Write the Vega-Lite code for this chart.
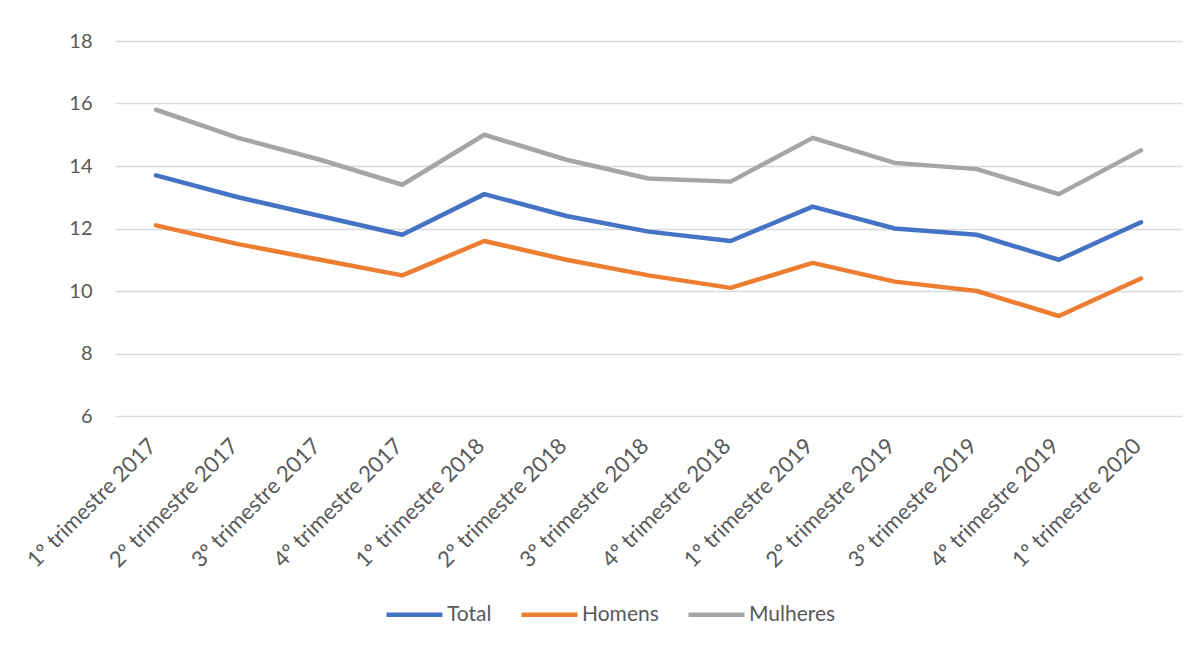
{
  "$schema": "https://vega.github.io/schema/vega-lite/v6.json",
  "width": 1067,
  "height": 375,
  "autosize": {"type": "none"},
  "padding": {"left": 115, "top": 41, "right": 16, "bottom": 230},
  "background": "white",
  "data": {
    "values": [
      {"trimestre": "1º trimestre 2017", "serie": "Total", "valor": 13.7},
      {"trimestre": "2º trimestre 2017", "serie": "Total", "valor": 13.0},
      {"trimestre": "3º trimestre 2017", "serie": "Total", "valor": 12.4},
      {"trimestre": "4º trimestre 2017", "serie": "Total", "valor": 11.8},
      {"trimestre": "1º trimestre 2018", "serie": "Total", "valor": 13.1},
      {"trimestre": "2º trimestre 2018", "serie": "Total", "valor": 12.4},
      {"trimestre": "3º trimestre 2018", "serie": "Total", "valor": 11.9},
      {"trimestre": "4º trimestre 2018", "serie": "Total", "valor": 11.6},
      {"trimestre": "1º trimestre 2019", "serie": "Total", "valor": 12.7},
      {"trimestre": "2º trimestre 2019", "serie": "Total", "valor": 12.0},
      {"trimestre": "3º trimestre 2019", "serie": "Total", "valor": 11.8},
      {"trimestre": "4º trimestre 2019", "serie": "Total", "valor": 11.0},
      {"trimestre": "1º trimestre 2020", "serie": "Total", "valor": 12.2},
      {"trimestre": "1º trimestre 2017", "serie": "Homens", "valor": 12.1},
      {"trimestre": "2º trimestre 2017", "serie": "Homens", "valor": 11.5},
      {"trimestre": "3º trimestre 2017", "serie": "Homens", "valor": 11.0},
      {"trimestre": "4º trimestre 2017", "serie": "Homens", "valor": 10.5},
      {"trimestre": "1º trimestre 2018", "serie": "Homens", "valor": 11.6},
      {"trimestre": "2º trimestre 2018", "serie": "Homens", "valor": 11.0},
      {"trimestre": "3º trimestre 2018", "serie": "Homens", "valor": 10.5},
      {"trimestre": "4º trimestre 2018", "serie": "Homens", "valor": 10.1},
      {"trimestre": "1º trimestre 2019", "serie": "Homens", "valor": 10.9},
      {"trimestre": "2º trimestre 2019", "serie": "Homens", "valor": 10.3},
      {"trimestre": "3º trimestre 2019", "serie": "Homens", "valor": 10.0},
      {"trimestre": "4º trimestre 2019", "serie": "Homens", "valor": 9.2},
      {"trimestre": "1º trimestre 2020", "serie": "Homens", "valor": 10.4},
      {"trimestre": "1º trimestre 2017", "serie": "Mulheres", "valor": 15.8},
      {"trimestre": "2º trimestre 2017", "serie": "Mulheres", "valor": 14.9},
      {"trimestre": "3º trimestre 2017", "serie": "Mulheres", "valor": 14.2},
      {"trimestre": "4º trimestre 2017", "serie": "Mulheres", "valor": 13.4},
      {"trimestre": "1º trimestre 2018", "serie": "Mulheres", "valor": 15.0},
      {"trimestre": "2º trimestre 2018", "serie": "Mulheres", "valor": 14.2},
      {"trimestre": "3º trimestre 2018", "serie": "Mulheres", "valor": 13.6},
      {"trimestre": "4º trimestre 2018", "serie": "Mulheres", "valor": 13.5},
      {"trimestre": "1º trimestre 2019", "serie": "Mulheres", "valor": 14.9},
      {"trimestre": "2º trimestre 2019", "serie": "Mulheres", "valor": 14.1},
      {"trimestre": "3º trimestre 2019", "serie": "Mulheres", "valor": 13.9},
      {"trimestre": "4º trimestre 2019", "serie": "Mulheres", "valor": 13.1},
      {"trimestre": "1º trimestre 2020", "serie": "Mulheres", "valor": 14.5}
    ]
  },
  "mark": {"type": "line", "strokeWidth": 4.5, "strokeCap": "round", "strokeJoin": "round"},
  "encoding": {
    "x": {
      "field": "trimestre",
      "type": "ordinal",
      "sort": [
        "1º trimestre 2017", "2º trimestre 2017", "3º trimestre 2017", "4º trimestre 2017",
        "1º trimestre 2018", "2º trimestre 2018", "3º trimestre 2018", "4º trimestre 2018",
        "1º trimestre 2019", "2º trimestre 2019", "3º trimestre 2019", "4º trimestre 2019",
        "1º trimestre 2020"
      ],
      "scale": {"type": "point", "padding": 0.5},
      "axis": {
        "title": null,
        "labelAngle": -45,
        "domain": false,
        "ticks": false,
        "tickSize": 0,
        "grid": false,
        "labelPadding": 19,
        "labelOffset": -11,
        "labelFont": "Lato",
        "labelFontSize": 22,
        "labelColor": "#595959"
      }
    },
    "y": {
      "field": "valor",
      "type": "quantitative",
      "scale": {"domain": [6, 18], "nice": false, "zero": false},
      "axis": {
        "title": null,
        "values": [6, 8, 10, 12, 14, 16, 18],
        "domain": false,
        "ticks": false,
        "tickSize": 0,
        "labelPadding": 23,
        "grid": true,
        "gridColor": "#D9D9D9",
        "gridWidth": 1.3,
        "labelFont": "Lato",
        "labelFontSize": 20,
        "labelColor": "#595959"
      }
    },
    "color": {
      "field": "serie",
      "type": "nominal",
      "scale": {
        "domain": ["Total", "Homens", "Mulheres"],
        "range": ["#4472C4", "#ED7D31", "#A5A5A5"]
      },
      "legend": {
        "title": null,
        "orient": "none",
        "legendX": 269,
        "legendY": 543,
        "direction": "horizontal",
        "symbolType": "stroke",
        "symbolSize": 3136,
        "symbolStrokeWidth": 4.5,
        "labelOffset": 2,
        "columnPadding": 20,
        "labelFont": "Lato",
        "labelFontSize": 21,
        "labelColor": "#595959"
      }
    }
  },
  "config": {
    "view": {"stroke": null}
  }
}
